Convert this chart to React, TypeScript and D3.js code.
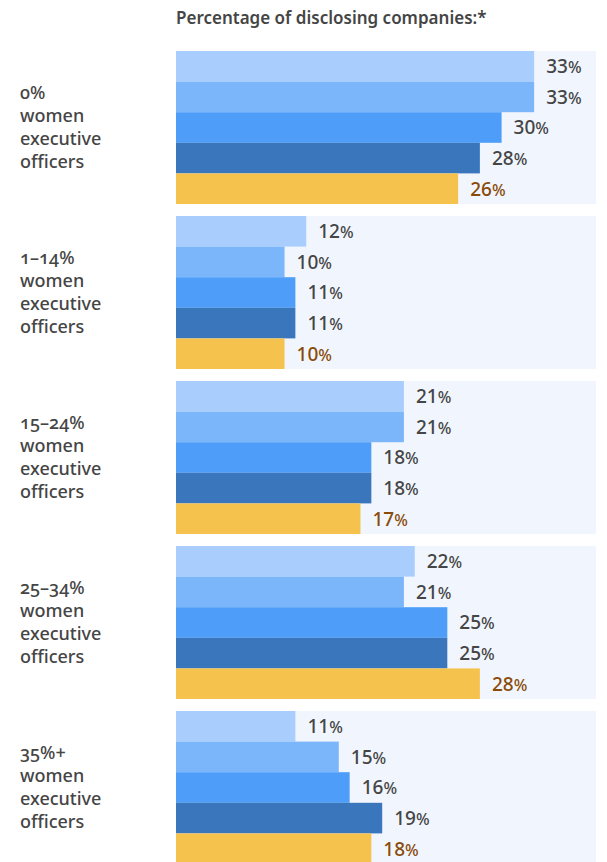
import React from "react";
import * as d3 from "d3";

const categories: string[][] = [
  ["0%", "women", "executive", "officers"],
  ["1–14%", "women", "executive", "officers"],
  ["15–24%", "women", "executive", "officers"],
  ["25–34%", "women", "executive", "officers"],
  ["35%+", "women", "executive", "officers"],
];
const seriesNames = ["Series 1", "Series 2", "Series 3", "Series 4", "Series 5"];
const series1 = [33, 12, 21, 22, 11];
const series2 = [33, 10, 21, 21, 15];
const series3 = [30, 11, 18, 25, 16];
const series4 = [28, 11, 18, 25, 19];
const series5 = [26, 10, 17, 28, 18];
const allSeries = [series1, series2, series3, series4, series5];
const seriesColors = ["#A9CDFD", "#7CB6FA", "#4E9DF9", "#3A76BB", "#F5C24D"];
const labelColors = ["#454545", "#454545", "#454545", "#454545", "#8A4B08"];
const title = "Percentage of disclosing companies:*";

const W = 607;
const H = 862;
const FONT = "'Noto Sans', 'Open Sans', sans-serif";

export default function App() {
  const x = d3.scaleLinear().domain([0, 38.7]).range([176, 596]);
  const groupY = d3
    .scaleBand<number>()
    .domain(d3.range(categories.length))
    .range([51, 51 + 5 * 153 + 4 * 12])
    .paddingInner(12 / 165)
    .paddingOuter(0);
  const barY = d3
    .scaleBand<number>()
    .domain(d3.range(seriesNames.length))
    .range([0, groupY.bandwidth()])
    .padding(0);

  return (
    <svg
      width={W}
      height={H}
      style={{ position: "absolute", left: 0, top: 0, background: "#fff" }}
      fontFamily={FONT}
    >
      <text x={176} y={24} fontSize={17} fontWeight={600} fill="#454545">
        {title}
      </text>
      {categories.map((cat, gi) => {
        const gy = groupY(gi)!;
        const bh = groupY.bandwidth();
        const lh = 23;
        const cy = gy + bh / 2;
        return (
          <g key={gi}>
            <rect x={x(0)} y={gy} width={x(38.7) - x(0)} height={bh} fill="#F1F6FE" />
            {cat.map((line, li) => (
              <text
                key={li}
                x={20}
                y={cy + (li - (cat.length - 1) / 2) * lh}
                dy="0.35em"
                fontSize={18}
                fontWeight={500}
                fill="#454545"
                style={{ fontVariantNumeric: "oldstyle-nums" }}
              >
                {line}
              </text>
            ))}
            {allSeries.map((s, si) => {
              const by = gy + barY(si)!;
              const bw = barY.bandwidth();
              return (
                <g key={si}>
                  <rect x={x(0)} y={by} width={x(s[gi]) - x(0)} height={bw} fill={seriesColors[si]} />
                  <text
                    x={x(s[gi]) + 12}
                    y={by + bw / 2}
                    dy="0.36em"
                    fontSize={19}
                    fontWeight={500}
                    fill={labelColors[si]}
                  >
                    {s[gi]}
                    <tspan fontSize={16}>%</tspan>
                  </text>
                </g>
              );
            })}
          </g>
        );
      })}
    </svg>
  );
}
